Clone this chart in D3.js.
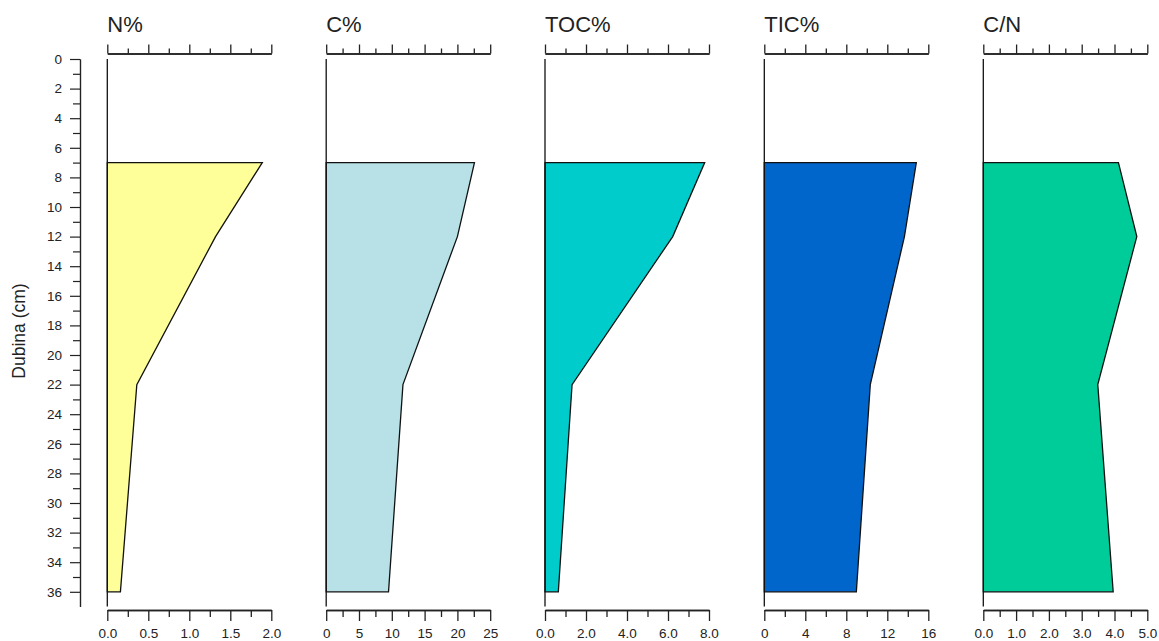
<!DOCTYPE html>
<html>
<head>
<meta charset="utf-8">
<script src="https://cdn.jsdelivr.net/npm/d3@7/dist/d3.min.js"></script>
<style>
  html, body { margin: 0; padding: 0; background: #fff; }
  svg { display: block; }
  text { font-family: "Liberation Sans", Arial, sans-serif; fill: #222; }
</style>
</head>
<body>
<svg id="chart" width="1159" height="641"></svg>
<script>
// ---- data ----
const depths = [7, 12, 22, 36];
const nPct   = [1.89, 1.32, 0.36, 0.16];
const cPct   = [22.6, 20.0, 11.7, 9.5];
const tocPct = [7.79, 6.23, 1.32, 0.65];
const ticPct = [14.83, 13.67, 10.34, 8.98];
const cnRatio = [4.12, 4.68, 3.49, 3.96];

const panelTitles = ["N%", "C%", "TOC%", "TIC%", "C/N"];
const panelMax    = [2.0, 25, 8.0, 16, 5.0];
const panelMajor  = [[0, 0.5, 1.0, 1.5, 2.0], [0, 5, 10, 15, 20, 25], [0, 2, 4, 6, 8], [0, 4, 8, 12, 16], [0, 1, 2, 3, 4, 5]];
const panelMinor  = [[0.25, 0.75, 1.25, 1.75], [2.5, 7.5, 12.5, 17.5, 22.5], [1, 3, 5, 7], [2, 6, 10, 14], [0.5, 1.5, 2.5, 3.5, 4.5]];
const panelFormat = [".1f", "d", ".1f", "d", ".1f"];
const panelColors = ["#FFFF99", "#B7E1E6", "#00CCCC", "#0066CC", "#00CC99"];
const panelValues = [nPct, cPct, tocPct, ticPct, cnRatio];

const depthMajor = d3.range(0, 37, 2);
const depthMinor = d3.range(1, 37, 2);

// ---- layout ----
const svg = d3.select("#chart");
const y = d3.scaleLinear().domain([0, 37]).range([59, 606.6]);
const yAxisX = 80;
const panelLeft = [107.3, 326.2, 545.0, 764.3, 983.3];
const panelWidth = 164;
const topAxisY = 53.5;
const bottomAxisY = 610;

// y axis
const gy = svg.append("g").attr("transform", `translate(${yAxisX},0)`);
gy.call(d3.axisLeft(y).tickValues(depthMajor).tickSize(10).tickSizeOuter(0).tickPadding(8).tickFormat(d3.format("d")));
gy.append("g").call(d3.axisLeft(y).tickValues(depthMinor).tickSize(7).tickSizeOuter(0).tickFormat(""));
gy.selectAll("path.domain").attr("stroke", "#222").attr("stroke-width", 1.2);
gy.selectAll(".tick line").attr("stroke", "#222").attr("stroke-width", 1.2);
gy.selectAll(".tick text").style("font-size", "13.5px").attr("fill", "#1a1a1a");

svg.append("text")
  .attr("transform", "translate(25,331) rotate(-90)")
  .attr("text-anchor", "middle")
  .style("font-size", "17.5px")
  .text("Dubina (cm)");

// panels
panelTitles.forEach((title, i) => {
  const x = d3.scaleLinear().domain([0, panelMax[i]]).range([panelLeft[i], panelLeft[i] + panelWidth]);
  const vals = panelValues[i];
  const g = svg.append("g");

  // filled profile
  const pts = [[0, depths[0]]].concat(depths.map((d, k) => [vals[k], d])).concat([[0, depths[depths.length - 1]]]);
  g.append("path")
    .attr("d", d3.line().x(p => x(p[0])).y(p => y(p[1]))(pts) + "Z")
    .attr("fill", panelColors[i])
    .attr("stroke", "#111")
    .attr("stroke-width", 1.3)
    .attr("stroke-linejoin", "miter");

  // vertical zero line
  g.append("line")
    .attr("x1", x(0)).attr("x2", x(0))
    .attr("y1", y(0)).attr("y2", y(37))
    .attr("stroke", "#111").attr("stroke-width", 1.3);

  // top axis
  const gt = g.append("g").attr("transform", `translate(0,${topAxisY})`);
  gt.call(d3.axisTop(x).tickValues(panelMajor[i]).tickSize(9).tickSizeOuter(0).tickFormat(""));
  gt.append("g").call(d3.axisTop(x).tickValues(panelMinor[i]).tickSize(5).tickSizeOuter(0).tickFormat(""));

  // bottom axis
  const gb = g.append("g").attr("transform", `translate(0,${bottomAxisY})`);
  gb.call(d3.axisBottom(x).tickValues(panelMajor[i]).tickSize(11).tickSizeOuter(0).tickPadding(7).tickFormat(d3.format(panelFormat[i])));
  gb.append("g").call(d3.axisBottom(x).tickValues(panelMinor[i]).tickSize(7).tickSizeOuter(0).tickFormat(""));

  [gt, gb].forEach(a => {
    a.selectAll("path.domain").attr("stroke", "#222").attr("stroke-width", 1.3);
    a.selectAll(".tick line").attr("stroke", "#222").attr("stroke-width", 1.3);
  });
  gb.selectAll(".tick text").style("font-size", "13.5px").attr("fill", "#1a1a1a");

  // title
  g.append("text")
    .attr("x", panelLeft[i])
    .attr("y", 32)
    .style("font-size", "22px")
    .text(title);
});
</script>
</body>
</html>
